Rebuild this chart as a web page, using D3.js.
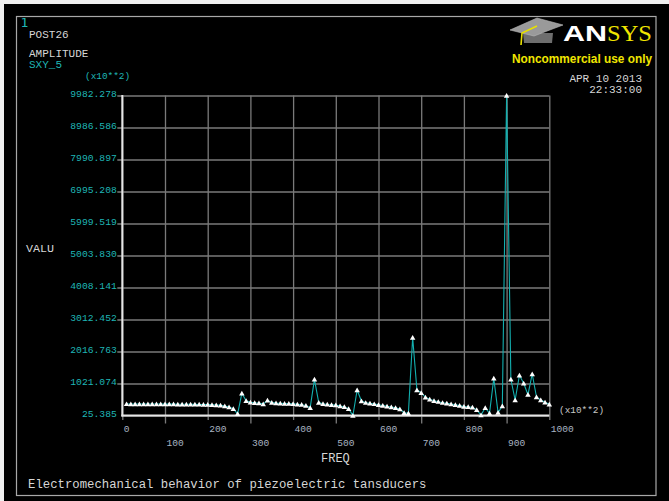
<!DOCTYPE html>
<html>
<head>
<meta charset="utf-8">
<script src="https://cdn.jsdelivr.net/npm/d3@7"></script>
<style>
  html, body { margin: 0; padding: 0; background: #f0f0f0; }
  svg { display: block; }
</style>
</head>
<body>
<svg id="chart" width="669" height="501"></svg>
<script>
// Harmonic response sample points, frequency in units of 10**2 Hz
const freq = [
  10, 20, 30, 40, 50, 60, 70, 80, 90, 100,
  110, 120, 130, 140, 150, 160, 170, 180, 190, 200,
  210, 220, 230, 240, 250, 260, 270, 280, 290, 300,
  310, 320, 330, 340, 350, 360, 370, 380, 390, 400,
  410, 420, 430, 440, 450, 460, 470, 480, 490, 500,
  510, 520, 530, 540, 550, 560, 570, 580, 590, 600,
  610, 620, 630, 640, 650, 660, 670, 680, 690, 700,
  710, 720, 730, 740, 750, 760, 770, 780, 790, 800,
  810, 820, 830, 840, 850, 860, 870, 880, 890, 900,
  910, 920, 930, 940, 950, 960, 970, 980, 990, 1000
];

// SXY_5 amplitude (units of 10**2)
const sxyAmplitude = [
  385, 384, 384, 383, 383, 382, 382, 381, 381, 380,
  379, 378, 377, 376, 375, 374, 372, 370, 368, 365,
  360, 353, 340, 322, 290, 235, 75, 715, 486, 436,
  422, 412, 380, 498, 428, 410, 404, 398, 393, 386,
  376, 362, 335, 268, 1150, 430, 392, 370, 358, 348,
  322, 292, 235, 25.385, 820, 476, 424, 405, 385, 360,
  336, 312, 290, 268, 228, 112, 92, 2450, 820, 735,
  592, 530, 486, 455, 424, 405, 383, 361, 332, 302,
  292, 282, 200, 40, 268, 96, 1183, 115, 321, 9982.278,
  1152, 508, 1276, 1027, 673, 1317, 601, 508, 436, 374
];

const yTickValues = [25.385, 1021.074, 2016.763, 3012.452, 4008.141,
                     5003.830, 5999.519, 6995.208, 7990.897, 8986.586, 9982.278];
const yTickLabels = ["25.385", "1021.074", "2016.763", "3012.452", "4008.141",
                     "5003.830", "5999.519", "6995.208", "7990.897", "8986.586", "9982.278"];
const xTickValues = [0, 100, 200, 300, 400, 500, 600, 700, 800, 900, 1000];
const xTickLabels = ["0", "100", "200", "300", "400", "500", "600", "700", "800", "900", "1000"];

const MONO = "'Liberation Mono', 'Courier New', monospace";
const TEAL = "#1fb6b6";
const LIGHT = "#d6d6d6";
const GRID = "#7a7a7a";

const svg = d3.select("#chart");

// window background and frame
svg.append("rect").attr("x", 4).attr("y", 4).attr("width", 665).attr("height", 497).attr("fill", "#000");
svg.append("rect").attr("x", 16.5).attr("y", 16.5).attr("width", 639.5).attr("height", 479)
  .attr("fill", "none").attr("stroke", "#a8a8a8").attr("stroke-width", 1.2);

const x = d3.scaleLinear().domain([0, 1000]).range([122.3, 549.3]);
const y = d3.scaleLinear().domain([25.385, 9982.278]).range([415.5, 95.5]);
const plotW = x(1000) - x(0);
const plotH = y(25.385) - y(9982.278);

// x axis: grid lines, staggered labels
const gx = svg.append("g").attr("transform", `translate(0,${y(25.385)})`)
  .call(d3.axisBottom(x).tickValues(xTickValues)
    .tickFormat((d, i) => xTickLabels[i]).tickSizeOuter(0));
gx.select(".domain").remove();
gx.selectAll(".tick line")
  .attr("y1", -plotH)
  .attr("y2", (d, i) => (i % 2 ? 8 : 4.5))
  .attr("stroke", GRID).attr("stroke-width", 1.3);
gx.selectAll(".tick text")
  .attr("text-anchor", "start").attr("x", 1)
  .attr("y", (d, i) => (i % 2 ? 30 : 16.5)).attr("dy", 0)
  .attr("fill", "#a9b4c2").style("font-family", MONO).style("font-size", "9.6px");

// y axis: grid lines and value labels
const gy = svg.append("g").attr("transform", `translate(${x(0)},0)`)
  .call(d3.axisLeft(y).tickValues(yTickValues)
    .tickFormat((d, i) => yTickLabels[i]).tickSizeOuter(0).tickPadding(5));
gy.select(".domain").remove();
gy.selectAll(".tick line")
  .attr("x1", (d, i) => (i === 0 ? 0 : -5))
  .attr("x2", plotW)
  .attr("stroke", GRID).attr("stroke-width", 1.3);
gy.selectAll(".tick text")
  .attr("x", -5.5).attr("dy", "0.15em")
  .attr("fill", TEAL).style("font-family", MONO).style("font-size", "9.7px");

// main axes
svg.append("line").attr("x1", x(0)).attr("x2", x(0)).attr("y1", y(9982.278) - 0.5).attr("y2", y(25.385) + 1)
  .attr("stroke", "#e6e6e6").attr("stroke-width", 2);
svg.append("line").attr("x1", x(0) - 1).attr("x2", x(1000)).attr("y1", y(25.385)).attr("y2", y(25.385))
  .attr("stroke", "#e6e6e6").attr("stroke-width", 2);

// response curve
const pts = freq.map((f, i) => [f, sxyAmplitude[i]]);
svg.append("path").datum(pts)
  .attr("fill", "none").attr("stroke", "#13b0b0").attr("stroke-width", 1.1)
  .attr("d", d3.line().x(d => x(d[0])).y(d => y(d[1])));

svg.append("g").selectAll("path").data(pts).join("path")
  .attr("transform", d => `translate(${x(d[0])},${y(d[1]) + 0.6})`)
  .attr("d", d3.symbol(d3.symbolTriangle, 13))
  .attr("fill", "#ffffff");

// labels
function label(txt, px, py, opts = {}) {
  svg.append("text").attr("x", px).attr("y", py)
    .attr("fill", opts.fill || LIGHT)
    .attr("text-anchor", opts.anchor || "start")
    .style("font-family", opts.family || MONO)
    .style("font-size", (opts.size || 11) + "px")
    .style("font-weight", opts.weight || "normal")
    .text(txt);
}
label("1", 20.5, 26.7, { fill: TEAL, size: 13, family: "'DejaVu Sans Mono', monospace" });
label("POST26", 29, 37.5);
label("AMPLITUDE", 29, 56.5);
label("SXY_5", 29, 68.3, { fill: TEAL });
label("(x10**2)", 85, 79, { fill: TEAL, size: 9.4 });
label("APR 10 2013", 642, 82.3, { anchor: "end" });
label("22:33:00", 642, 93.3, { anchor: "end" });
label("VALU", 26, 252, { size: 11.7 });
label("FREQ", 321, 462, { size: 12 });
label("(x10**2)", 559, 412.5, { size: 9.4, fill: "#c8c8c8" });
label("Electromechanical behavior of piezoelectric tansducers", 28, 488, { size: 12.3 });

// ANSYS badge
const logo = svg.append("g");
logo.append("polygon").attr("points", "523,33 553,33 552,43 524,43").attr("fill", "#6e6e6e");
logo.append("polygon").attr("points", "510,30 537,18 563,25 534,36").attr("fill", "#9a9a9a")
  .attr("stroke", "#b8b8b8").attr("stroke-width", 0.6);
logo.append("polyline").attr("points", "537,26 522,33 521,45").attr("fill", "none")
  .attr("stroke", "#e8e000").attr("stroke-width", 1.6);
logo.append("text").attr("x", 563).attr("y", 40.5)
  .style("font-family", "'Liberation Sans', Arial, sans-serif").style("font-size", "22px")
  .style("font-weight", "bold").attr("fill", "#ffffff")
  .attr("textLength", 44).attr("lengthAdjust", "spacingAndGlyphs").text("AN");
logo.append("text").attr("x", 607).attr("y", 40.5)
  .style("font-family", "'Liberation Serif', 'Times New Roman', serif").style("font-size", "23px")
  .attr("fill", "#f0e600")
  .attr("textLength", 45).attr("lengthAdjust", "spacingAndGlyphs").text("SYS");
logo.append("text").attr("x", 512).attr("y", 62.5)
  .style("font-family", "'Liberation Sans', Arial, sans-serif").style("font-size", "12px")
  .style("font-weight", "bold").attr("fill", "#f0e600")
  .attr("textLength", 140).attr("lengthAdjust", "spacingAndGlyphs").text("Noncommercial use only");
</script>
</body>
</html>
